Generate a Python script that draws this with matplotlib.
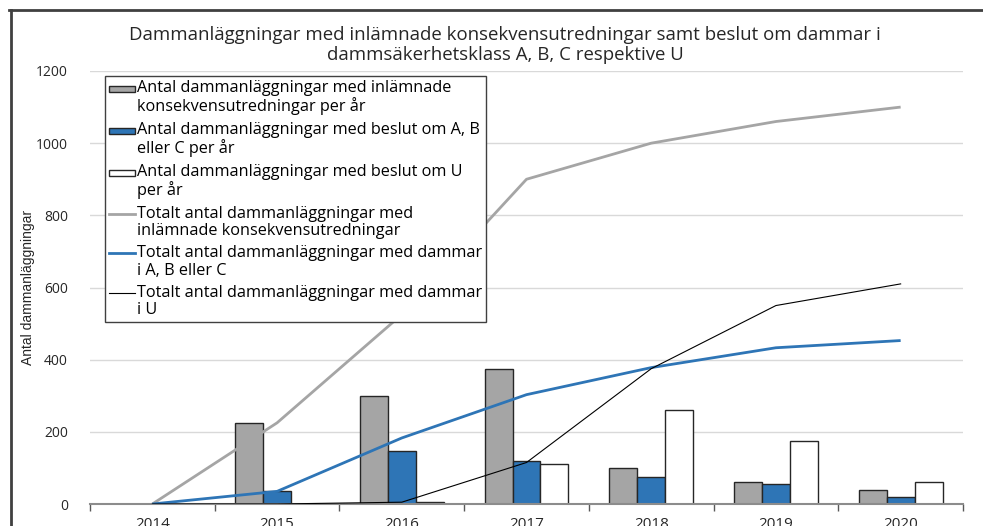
import numpy as np
import matplotlib
matplotlib.use("Agg")
import matplotlib.pyplot as plt
from matplotlib.lines import Line2D
from matplotlib.patches import Patch, Rectangle
from matplotlib.legend_handler import HandlerBase

# %% data
years = ["2014", "2015", "2016", "2017", "2018", "2019", "2020"]
ks_per_year = [0, 225, 300, 375, 100, 60, 40]      # inlämnade konsekvensutredningar
abc_per_year = [0, 35, 148, 120, 75, 55, 20]       # beslut om A, B eller C
u_per_year = [0, 0, 5, 110, 260, 175, 60]          # beslut om U
ks_total = [0, 225, 525, 900, 1000, 1060, 1100]
abc_total = [0, 35, 183, 303, 378, 433, 453]
u_total = [0, 0, 5, 115, 375, 550, 610]

labels = [
    "Antal dammanläggningar med inlämnade\nkonsekvensutredningar per år",
    "Antal dammanläggningar med beslut om A, B\neller C per år",
    "Antal dammanläggningar med beslut om U\nper år",
    "Totalt antal dammanläggningar med\ninlämnade konsekvensutredningar",
    "Totalt antal dammanläggningar med dammar\ni A, B eller C",
    "Totalt antal dammanläggningar med dammar\ni U",
]

GREY = "#A5A5A5"
BLUE = "#2E75B6"
EDGE = "#262626"

W, H = 983, 526
plt.rcParams["font.family"] = ["Open Sans", "DejaVu Sans"]

fig = plt.figure(figsize=(W / 100, H / 100), dpi=100)
ax = fig.add_axes([90 / W, 1 - 504 / H, (963 - 90) / W, (504 - 71) / H])

x = np.arange(len(years))
bw = 0.224
ax.bar(x - bw, ks_per_year, bw, color=GREY, edgecolor=EDGE, linewidth=1, zorder=2)
ax.bar(x, abc_per_year, bw, color=BLUE, edgecolor=EDGE, linewidth=1, zorder=2)
ax.bar(x + bw, u_per_year, bw, color="white", edgecolor=EDGE, linewidth=1, zorder=2)

ax.plot(x, ks_total, color=GREY, lw=2.0, zorder=3, solid_capstyle="butt")
ax.plot(x, abc_total, color=BLUE, lw=2.0, zorder=3, solid_capstyle="butt")
ax.plot(x, u_total, color="black", lw=0.8, zorder=3)

ax.set_xlim(-0.5, len(years) - 0.5)
ax.set_ylim(0, 1200)
ax.set_yticks(range(0, 1201, 200))
ax.tick_params(axis="y", length=0, pad=16, labelsize=10, labelcolor="#262626")
ax.set_xticks(x)
ax.set_xticklabels(years)
ax.tick_params(axis="x", which="major", length=0, pad=9, labelsize=11, labelcolor="#262626")
ax.set_xticks(np.arange(-0.5, len(years), 1), minor=True)
ax.tick_params(axis="x", which="minor", length=5, width=1, color="#595959", direction="out")

ax.grid(axis="y", color="#D9D9D9", lw=1, zorder=0)
ax.set_axisbelow(True)
for s in ["top", "right", "left"]:
    ax.spines[s].set_visible(False)
ax.spines["bottom"].set_color("#8C8C8C")
ax.spines["bottom"].set_linewidth(1.5)

ax.set_ylabel("Antal dammanläggningar", family=["Liberation Sans", "DejaVu Sans"],
              fontsize=10, color="#262626")
ax.yaxis.set_label_coords(-(90 - 35) / (963 - 90), 0.5)

fig.text(505 / W, 1 - 45 / H,
         "Dammanläggningar med inlämnade konsekvensutredningar samt beslut om dammar i\n"
         "dammsäkerhetsklass A, B, C respektive U",
         ha="center", va="center", fontsize=13.4, linespacing=1.1, color="#262626")


# legend handles sit on the first text line, like in Excel
RAISE = 0.55


class FirstLinePatch(HandlerBase):
    def create_artists(self, legend, orig, xd, yd, w, h, fs, trans):
        cy = -yd + 0.35 * fs + RAISE * fs
        r = Rectangle((-xd, cy - 0.2 * fs), w, 0.4 * fs, facecolor=orig.get_facecolor(),
                      edgecolor=orig.get_edgecolor(), linewidth=orig.get_linewidth(),
                      transform=trans)
        return [r]


class FirstLineLine(HandlerBase):
    def create_artists(self, legend, orig, xd, yd, w, h, fs, trans):
        cy = -yd + 0.35 * fs + RAISE * fs
        ln = Line2D([-xd, -xd + w], [cy, cy], color=orig.get_color(),
                    linewidth=orig.get_linewidth(), transform=trans)
        return [ln]


handles = [
    Patch(facecolor=GREY, edgecolor=EDGE, linewidth=1),
    Patch(facecolor=BLUE, edgecolor=EDGE, linewidth=1),
    Patch(facecolor="white", edgecolor=EDGE, linewidth=1),
    Line2D([], [], color=GREY, lw=2.0),
    Line2D([], [], color=BLUE, lw=2.0),
    Line2D([], [], color="black", lw=0.8),
]
leg = ax.legend(handles, labels, loc="upper left",
                bbox_to_anchor=(105 / W, 1 - 76 / H), bbox_transform=fig.transFigure,
                borderaxespad=0, fontsize=11.7, handlelength=1.6, handletextpad=0.12,
                borderpad=0.25, labelspacing=0.4, fancybox=False, framealpha=1,
                edgecolor="#404040",
                handler_map={Patch: FirstLinePatch(), Line2D: FirstLineLine()})
leg.get_frame().set_linewidth(1)
leg.set_zorder(5)
for t in leg.get_texts():
    t.set_linespacing(1.1)
    t.set_color("#000000")

# chart frame (cut off at right and bottom in the reference)
fig.add_artist(Line2D([9 / W, 1], [1 - 10 / H] * 2, transform=fig.transFigure,
                      color="#404040", lw=2))
fig.add_artist(Line2D([11 / W] * 2, [0, 1 - 10 / H], transform=fig.transFigure,
                      color="#404040", lw=2))

fig.savefig("out.png", dpi=100)
